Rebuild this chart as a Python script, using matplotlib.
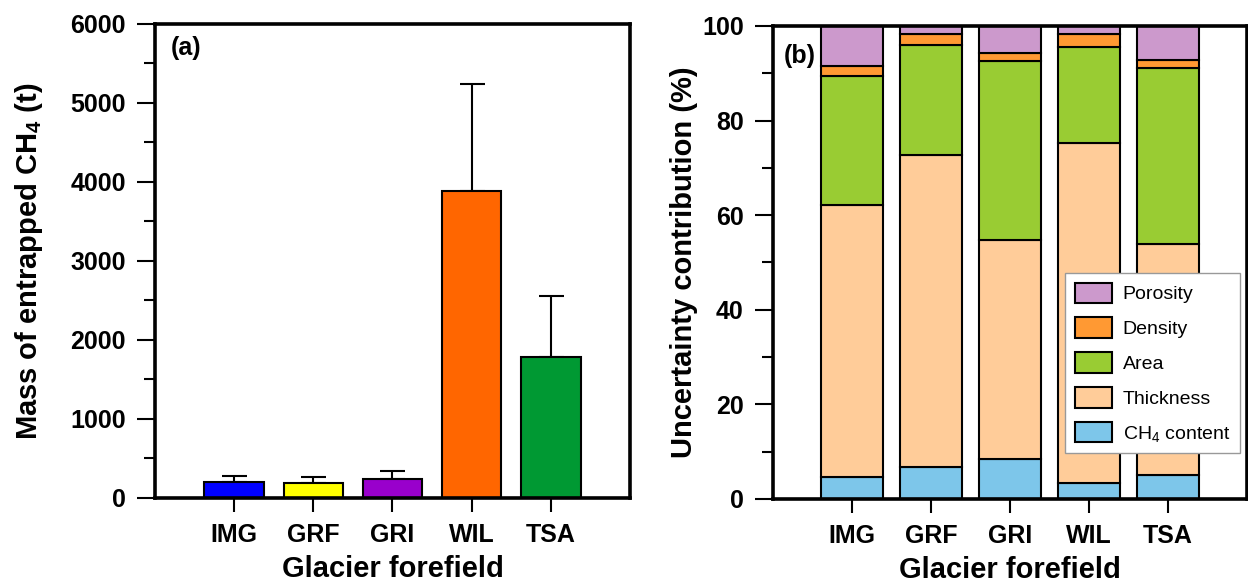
import numpy as np
import matplotlib
matplotlib.use("Agg")
import matplotlib.pyplot as plt

plt.rcParams['font.family'] = ['Liberation Sans', 'DejaVu Sans']
plt.rcParams['mathtext.fontset'] = 'custom'
plt.rcParams['mathtext.rm'] = 'Liberation Sans'
plt.rcParams['mathtext.bf'] = 'Liberation Sans:bold'
plt.rcParams['mathtext.it'] = 'Liberation Sans:italic'

# data
sites = ['IMG', 'GRF', 'GRI', 'WIL', 'TSA']
mass = [200, 190, 240, 3880, 1785]          # t
mass_err = [78, 76, 100, 1360, 770]         # upper error
mass_colors = ['#0000FF', '#FFFF00', '#9900CC', '#FF6600', '#009933']

# uncertainty contributions (%), bottom to top
ch4_content = [4.6, 6.7, 8.4, 3.3, 5.1]
thickness = [57.6, 66.0, 46.4, 72.0, 48.7]
area = [27.3, 23.3, 37.7, 20.3, 37.4]
density = [2.1, 2.3, 1.7, 2.8, 1.6]
porosity = [8.4, 1.7, 5.8, 1.6, 7.2]

comp_names = ['CH$_4$ content', 'Thickness', 'Area', 'Density', 'Porosity']
comp_colors = ['#7DC6EA', '#FFCC99', '#99CC33', '#FF9933', '#CC99CC']

x = np.arange(1, len(sites) + 1)

fig = plt.figure(figsize=(12.48, 5.86), dpi=100)
ax1 = fig.add_axes([0.1242, 0.1502, 0.3806, 0.8089])
ax2 = fig.add_axes([0.6194, 0.1485, 0.3798, 0.8072])

# (a) mass of entrapped CH4
ax1.bar(x, mass, width=0.75, color=mass_colors, edgecolor='black', linewidth=1.5,
        zorder=2)
ax1.errorbar(x, mass, yerr=[np.zeros(len(mass)), mass_err], fmt='none',
             ecolor='black', elinewidth=1.5, capsize=9, capthick=1.5, zorder=1)
ax1.set_ylim(0, 6000)
ax1.set_yticks(np.arange(0, 6001, 1000))
ax1.set_yticks(np.arange(500, 6000, 1000), minor=True)
ax1.set_ylabel(r'Mass of entrapped CH$_\mathbf{4}$ (t)', fontsize=21, fontweight='bold')
ax1.yaxis.set_label_coords(-0.232, 0.5)
ax1.text(0.034, 0.975, '(a)', transform=ax1.transAxes, fontsize=18,
         fontweight='bold', va='top', ha='left')

# (b) uncertainty contributions
parts = [ch4_content, thickness, area, density, porosity]
bottom = np.zeros(len(sites))
handles = []
for vals, name, col in zip(parts, comp_names, comp_colors):
    b = ax2.bar(x, vals, bottom=bottom, width=0.79, color=col, edgecolor='black',
                linewidth=1.5, label=name)
    handles.append(b)
    bottom = bottom + np.array(vals)
ax2.set_ylim(0, 100)
ax2.set_yticks(np.arange(0, 101, 20))
ax2.set_yticks(np.arange(10, 100, 20), minor=True)
ax2.set_ylabel('Uncertainty contribution (%)', fontsize=21, fontweight='bold')
ax2.yaxis.set_label_coords(-0.158, 0.5)
ax2.text(0.022, 0.962, '(b)', transform=ax2.transAxes, fontsize=18,
         fontweight='bold', va='top', ha='left')
leg = ax2.legend(handles[::-1], comp_names[::-1], loc='upper right',
                 bbox_to_anchor=(0.985, 0.478), borderaxespad=0, fontsize=14,
                 handlelength=1.9, handleheight=1.25, labelspacing=0.72,
                 handletextpad=0.55, fancybox=False, framealpha=1,
                 edgecolor='#999999', borderpad=0.5)
leg.get_frame().set_linewidth(1.0)

for ax in (ax1, ax2):
    ax.set_xlim(0, 6)
    ax.set_xticks(x)
    ax.set_xticklabels(sites)
    ax.set_xlabel('Glacier forefield', fontsize=21, fontweight='bold', labelpad=6)
    for s in ax.spines.values():
        s.set_linewidth(2.6)
    ax.tick_params(axis='both', which='major', direction='out', length=13, width=1.5,
                   labelsize=18, pad=8)
    ax.tick_params(axis='y', which='minor', direction='out', length=8, width=1.5)
    ax.tick_params(axis='x', which='major', length=10, pad=8)
    ax.tick_params(top=False, right=False)
    for lab in ax.get_xticklabels() + ax.get_yticklabels():
        lab.set_fontweight('bold')

fig.savefig('out.png', dpi=100)
